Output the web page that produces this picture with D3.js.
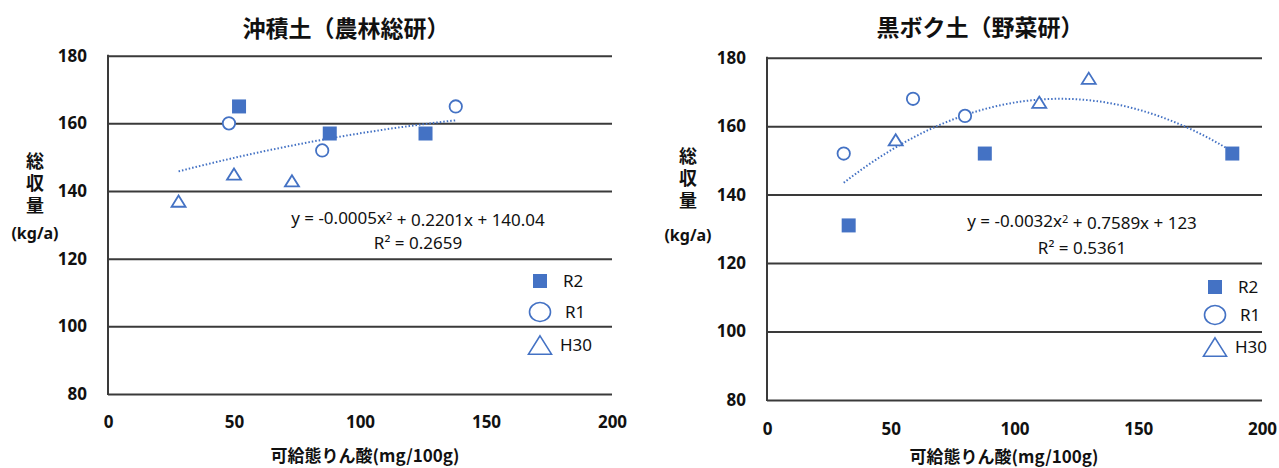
<!DOCTYPE html>
<html>
<head>
<meta charset="utf-8">
<script src="https://cdn.jsdelivr.net/npm/d3@7"></script>
<style>
  body { margin: 0; background: #fff; }
  svg text { font-family: "Noto Sans", "Noto Sans CJK JP", sans-serif; fill: #111; }
  .jp { font-family: "Noto Sans CJK JP", sans-serif; }
</style>
</head>
<body>
<svg width="1279" height="468"></svg>
<script>
// ---- data ----
var titles = ["沖積土（農林総研）", "黒ボク土（野菜研）"];
var xTitle = "可給態りん酸(mg/100g)";
var yTitle = "総収量";
var yUnit = "(kg/a)";
var seriesNames = ["R2", "R1", "H30"];
var xTicks = [0, 50, 100, 150, 200];
var yTicks = [80, 100, 120, 140, 160, 180];

// 沖積土
var alluvR2x = [52, 88, 126],      alluvR2y = [165, 157, 157];
var alluvR1x = [48, 85, 138],      alluvR1y = [160, 152, 165];
var alluvH30x = [28, 50, 73],      alluvH30y = [137, 145, 143];
var alluvCoef = [-0.0005, 0.2201, 140.04];
var alluvEq = ["y = -0.0005x", "2", " + 0.2201x + 140.04"];
var alluvR2 = "0.2659";

// 黒ボク土
var andoR2x = [33, 88, 188],       andoR2y = [131, 152, 152];
var andoR1x = [31, 59, 80],        andoR1y = [152, 168, 163];
var andoH30x = [52, 110, 130],     andoH30y = [156, 167, 174];
var andoCoef = [-0.0032, 0.7589, 123];
var andoEq = ["y = -0.0032x", "2", " + 0.7589x + 123"];
var andoR2 = "0.5361";

var blue = "#4472C4";
var gridColor = "#3a3a3a";

var svg = d3.select("svg");

function zip(xs, ys) {
    return xs.map(function (x, i) { return { x: x, y: ys[i] }; });
}

var panels = [
    {
        title: titles[0], titleX: 346, titleY: 29,
        xr: [108, 612], yr: [394, 55.7], xPad: 22,
        yTitleX: 35, yTitleY: 185, unitY: 233,
        xTitleX: 365, xTitleY: 456,
        r2: zip(alluvR2x, alluvR2y), r1: zip(alluvR1x, alluvR1y), h30: zip(alluvH30x, alluvH30y),
        coef: alluvCoef, eq: alluvEq, rsq: alluvR2, eqX: 418, eqY: 218, rsqY: 243,
        legX: 540, legTextX: 563, legY: [281, 312, 345]
    },
    {
        title: titles[1], titleX: 980, titleY: 28,
        xr: [767, 1262], yr: [400, 57.7], xPad: 23,
        yTitleX: 688, yTitleY: 180, unitY: 235,
        xTitleX: 1004, xTitleY: 457,
        r2: zip(andoR2x, andoR2y), r1: zip(andoR1x, andoR1y), h30: zip(andoH30x, andoH30y),
        coef: andoCoef, eq: andoEq, rsq: andoR2, eqX: 1082, eqY: 221, rsqY: 248,
        legX: 1215, legTextX: 1238, legY: [287, 315, 347]
    }
];

function triPath(s) {
    // triangle centred on its bounding box, width s, height 0.8s
    var h = s * 0.8;
    return "M0," + (-h / 2) + "L" + (s / 2) + "," + (h / 2) + "L" + (-s / 2) + "," + (h / 2) + "Z";
}

panels.forEach(function (p) {
    var x = d3.scaleLinear().domain([0, 200]).range(p.xr);
    var y = d3.scaleLinear().domain([80, 180]).range(p.yr);
    var w = p.xr[1] - p.xr[0];
    var g = svg.append("g");

    // title
    g.append("text")
        .attr("class", "jp")
        .attr("x", p.titleX).attr("y", p.titleY)
        .attr("dy", "0.35em")
        .attr("text-anchor", "middle")
        .style("font-size", "23px").style("font-weight", "700")
        .text(p.title);

    // gridlines + y tick labels
    var yAxis = g.append("g")
        .attr("transform", "translate(" + p.xr[0] + ",0)")
        .call(d3.axisLeft(y).tickValues(yTicks).tickSize(-w).tickPadding(21));
    yAxis.select(".domain").remove();
    yAxis.selectAll(".tick line").attr("stroke", gridColor).attr("stroke-width", 2);
    yAxis.selectAll(".tick text")
        .style("font-size", "17px").style("font-weight", "700")
        .style("font-family", "'Noto Sans', sans-serif").attr("fill", "#111");

    // vertical axis line
    g.append("line")
        .attr("x1", x(0)).attr("x2", x(0))
        .attr("y1", y(180) - 1).attr("y2", y(80) + 1)
        .attr("stroke", gridColor).attr("stroke-width", 2);

    // x tick labels
    var xAxis = g.append("g")
        .attr("transform", "translate(0," + y(80) + ")")
        .call(d3.axisBottom(x).tickValues(xTicks).tickSize(0).tickPadding(p.xPad));
    xAxis.select(".domain").remove();
    xAxis.selectAll(".tick text")
        .style("font-size", "17px").style("font-weight", "700")
        .style("font-family", "'Noto Sans', sans-serif").attr("fill", "#111");

    // axis titles
    g.append("text")
        .attr("class", "jp")
        .attr("x", p.xTitleX).attr("y", p.xTitleY)
        .attr("dy", "0.35em").attr("text-anchor", "middle")
        .style("font-size", "17px").style("font-weight", "700")
        .text(xTitle);
    g.append("text")
        .attr("class", "jp")
        .attr("x", p.yTitleX).attr("y", p.yTitleY)
        .attr("text-anchor", "middle")
        .style("writing-mode", "vertical-rl")
        .style("letter-spacing", "4px")
        .style("font-size", "18px").style("font-weight", "700")
        .text(yTitle);
    g.append("text")
        .attr("x", p.yTitleX).attr("y", p.unitY)
        .attr("dy", "0.35em").attr("text-anchor", "middle")
        .style("font-size", "16px").style("font-weight", "700")
        .text(yUnit);

    // polynomial trendline (from the equation shown on the chart)
    var all = p.r2.concat(p.r1, p.h30);
    var xmin = d3.min(all, function (d) { return d.x; });
    var xmax = d3.max(all, function (d) { return d.x; });
    var c = p.coef;
    var trend = d3.range(0, 61).map(function (i) {
        var xv = xmin + (xmax - xmin) * i / 60;
        return { x: xv, y: c[0] * xv * xv + c[1] * xv + c[2] };
    });
    g.append("path")
        .datum(trend)
        .attr("fill", "none")
        .attr("stroke", blue)
        .attr("stroke-width", 2)
        .attr("stroke-dasharray", "1.5,2")
        .attr("d", d3.line().x(function (d) { return x(d.x); }).y(function (d) { return y(d.y); }));

    // markers
    g.selectAll(".sq").data(p.r2).enter().append("rect")
        .attr("x", function (d) { return x(d.x) - 7; })
        .attr("y", function (d) { return y(d.y) - 7; })
        .attr("width", 14).attr("height", 14)
        .attr("fill", blue);
    g.selectAll(".ci").data(p.r1).enter().append("circle")
        .attr("cx", function (d) { return x(d.x); })
        .attr("cy", function (d) { return y(d.y); })
        .attr("r", 6.2)
        .attr("fill", "#fff").attr("stroke", blue).attr("stroke-width", 1.8);
    g.selectAll(".tr").data(p.h30).enter().append("path")
        .attr("transform", function (d) { return "translate(" + x(d.x) + "," + y(d.y) + ")"; })
        .attr("d", triPath(14))
        .attr("fill", "#fff").attr("stroke", blue).attr("stroke-width", 1.8);

    // equation + R²
    var eq = g.append("text")
        .attr("x", p.eqX).attr("y", p.eqY)
        .attr("dy", "0.35em").attr("text-anchor", "middle")
        .style("font-size", "17px");
    eq.append("tspan").text(p.eq[0]);
    eq.append("tspan").attr("dy", "-0.4em").style("font-size", "11px").text(p.eq[1]);
    eq.append("tspan").attr("dy", "0.4em").text(p.eq[2]);
    g.append("text")
        .attr("x", p.eqX).attr("y", p.rsqY)
        .attr("dy", "0.35em").attr("text-anchor", "middle")
        .style("font-size", "17px")
        .text("R² = " + p.rsq);

    // legend
    g.append("rect")
        .attr("x", p.legX - 7).attr("y", p.legY[0] - 7)
        .attr("width", 14).attr("height", 14).attr("fill", blue);
    g.append("ellipse")
        .attr("cx", p.legX).attr("cy", p.legY[1])
        .attr("rx", 10.5).attr("ry", 9.5)
        .attr("fill", "#fff").attr("stroke", blue).attr("stroke-width", 1.6);
    g.append("path")
        .attr("transform", "translate(" + p.legX + "," + p.legY[2] + ")")
        .attr("d", triPath(23))
        .attr("fill", "#fff").attr("stroke", blue).attr("stroke-width", 1.6);
    seriesNames.forEach(function (s, i) {
        g.append("text")
            .attr("x", p.legTextX - (i === 2 ? 3 : 0) + (i === 1 ? 2 : 0))
            .attr("y", p.legY[i])
            .attr("dy", "0.35em")
            .style("font-size", "17px")
            .text(s);
    });
});
</script>
</body>
</html>
